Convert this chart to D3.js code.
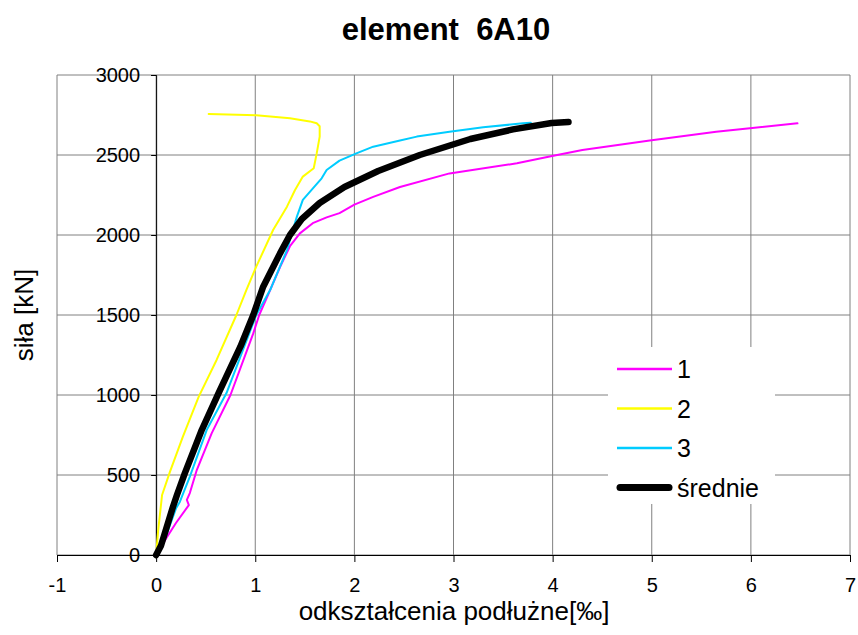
<!DOCTYPE html>
<html>
<head>
<meta charset="utf-8">
<script src="https://cdn.jsdelivr.net/npm/d3@7"></script>
<style>
  body { margin: 0; background: #fff; }
  svg { font-family: "Liberation Sans", Arial, sans-serif; }
  svg text { white-space: pre; }
</style>
</head>
<body>
<svg id="chart"></svg>
<script>
// odkształcenia [‰] i siła [kN] dla każdej serii
var s1X = [0, 0.11, 0.20, 0.33, 0.31, 0.34, 0.41, 0.56, 0.75, 0.98, 1.04, 1.15, 1.25, 1.35, 1.45, 1.58, 1.72, 1.85, 2.0, 2.19, 2.46, 2.96, 3.64, 3.97, 4.30, 4.98, 5.65, 5.99, 6.47]
var s1Y = [0, 112, 200, 312, 344, 387, 531, 760, 1000, 1385, 1500, 1656, 1800, 1930, 2010, 2074, 2110, 2137, 2190, 2238, 2300, 2385, 2448, 2490, 2531, 2590, 2646, 2667, 2698]

var s2X = [0, 0.02, 0.06, 0.14, 0.27, 0.43, 0.61, 0.81, 0.91, 1.01, 1.18, 1.32, 1.40, 1.48, 1.59, 1.62, 1.65, 1.65, 1.62, 1.55, 1.35, 1.01, 0.53]
var s2Y = [0, 150, 375, 521, 740, 990, 1219, 1500, 1656, 1802, 2031, 2177, 2280, 2365, 2417, 2510, 2615, 2680, 2698, 2710, 2729, 2748, 2756]

var s3X = [0, 0.1, 0.2, 0.24, 0.34, 0.51, 0.71, 1.01, 1.15, 1.32, 1.42, 1.48, 1.67, 1.72, 1.85, 2.02, 2.19, 2.46, 2.63, 2.96, 3.30, 3.70, 3.78]
var s3Y = [0, 120, 290, 333, 490, 781, 1012, 1500, 1656, 1906, 2115, 2219, 2354, 2406, 2465, 2510, 2552, 2590, 2615, 2646, 2673, 2698, 2702]

var avgX = [0, 0.05, 0.17, 0.21, 0.29, 0.46, 0.63, 0.85, 0.98, 1.08, 1.25, 1.35, 1.47, 1.65, 1.90, 2.24, 2.66, 3.17, 3.60, 3.99, 4.16]
var avgY = [0, 60, 302, 375, 512, 781, 1012, 1302, 1500, 1677, 1885, 2000, 2100, 2200, 2300, 2400, 2500, 2600, 2660, 2700, 2706]

var seriesNames = ["1", "2", "3", "średnie"]
var seriesColors = ["#ff00ff", "#ffff00", "#00ccff", "#000000"]
var xTicks = [-1, 0, 1, 2, 3, 4, 5, 6, 7]
var yTicks = [0, 500, 1000, 1500, 2000, 2500, 3000]

var dimensions = {
  width: 858,
  height: 635,
  margin: { top: 75, bottom: 80, left: 57, right: 8 }
}

var svg = d3.select("#chart")
  .attr("width", dimensions.width)
  .attr("height", dimensions.height)

var xScale = d3.scaleLinear()
  .domain([-1, 7])
  .range([dimensions.margin.left, dimensions.width - dimensions.margin.right])

var yScale = d3.scaleLinear()
  .domain([0, 3000])
  .range([dimensions.height - dimensions.margin.bottom, dimensions.margin.top])

// siatka
var grid = svg.append("g")
grid.selectAll("line.v")
  .data(xTicks)
  .enter().append("line")
  .attr("x1", d => xScale(d)).attr("x2", d => xScale(d))
  .attr("y1", yScale(0)).attr("y2", yScale(3000))
  .attr("stroke", "#808080").attr("stroke-width", 1)
grid.selectAll("line.h")
  .data(yTicks)
  .enter().append("line")
  .attr("x1", xScale(-1)).attr("x2", xScale(7))
  .attr("y1", d => yScale(d)).attr("y2", d => yScale(d))
  .attr("stroke", "#808080").attr("stroke-width", 1)

// osie
var xAxisGen = d3.axisBottom(xScale).tickValues(xTicks).tickSize(7).tickFormat(d3.format("d"))
var xAxis = svg.append("g")
  .attr("transform", `translate(0,${yScale(0)})`)
  .call(xAxisGen)
xAxis.select(".domain").attr("stroke", "#000")
xAxis.selectAll("text").attr("font-size", 20).attr("fill", "#000").attr("y", 23)
  .style("font-family", "Liberation Sans, Arial, sans-serif")
  .text(d => d < 0 ? "-" + Math.abs(d) : d)

var yAxisGen = d3.axisLeft(yScale).tickValues(yTicks).tickSize(5).tickFormat(d3.format("d"))
var yAxis = svg.append("g")
  .attr("transform", `translate(${xScale(0)},0)`)
  .call(yAxisGen)
yAxis.select(".domain").attr("stroke", "#000")
yAxis.selectAll("text").attr("font-size", 20).attr("fill", "#000").attr("x", -16)
  .style("font-family", "Liberation Sans, Arial, sans-serif")

// serie
var lineGen = d3.line()
  .x(d => xScale(d[0]))
  .y(d => yScale(d[1]))

var series = [
  d3.zip(s1X, s1Y),
  d3.zip(s2X, s2Y),
  d3.zip(s3X, s3Y),
  d3.zip(avgX, avgY)
]
var widths = [2, 2, 2, 6.5]

svg.append("g")
  .selectAll("path")
  .data(series)
  .enter().append("path")
  .attr("d", d => lineGen(d))
  .attr("fill", "none")
  .attr("stroke", (d, i) => seriesColors[i])
  .attr("stroke-width", (d, i) => widths[i])
  .attr("stroke-linejoin", "round")
  .attr("stroke-linecap", "round")

// legenda
var legend = svg.append("g").attr("transform", "translate(608,347)")
legend.append("rect")
  .attr("width", 167).attr("height", 157)
  .attr("fill", "#fff")
var rows = legend.selectAll("g")
  .data(seriesNames)
  .enter().append("g")
  .attr("transform", (d, i) => `translate(0,${22 + i * 39.5})`)
rows.append("line")
  .attr("x1", (d, i) => i == 3 ? 12 : 9).attr("x2", (d, i) => i == 3 ? 61 : 64)
  .attr("stroke", (d, i) => seriesColors[i])
  .attr("stroke-width", (d, i) => i == 3 ? 7 : 2.5)
  .attr("stroke-linecap", (d, i) => i == 3 ? "round" : "butt")
rows.append("text")
  .attr("x", 69).attr("y", 9)
  .attr("font-size", 25)
  .text(d => d)

// tytuły
svg.append("text")
  .attr("x", 446).attr("y", 40)
  .attr("text-anchor", "middle")
  .attr("font-size", 31).attr("font-weight", "bold")
  .text("element  6A10")

svg.append("text")
  .attr("x", 454).attr("y", 620)
  .attr("text-anchor", "middle")
  .attr("font-size", 26)
  .text("odkształcenia podłużne[‰]")

svg.append("text")
  .attr("transform", "translate(33,315) rotate(-90)")
  .attr("text-anchor", "middle")
  .attr("font-size", 26)
  .text("siła [kN]")
</script>
</body>
</html>
